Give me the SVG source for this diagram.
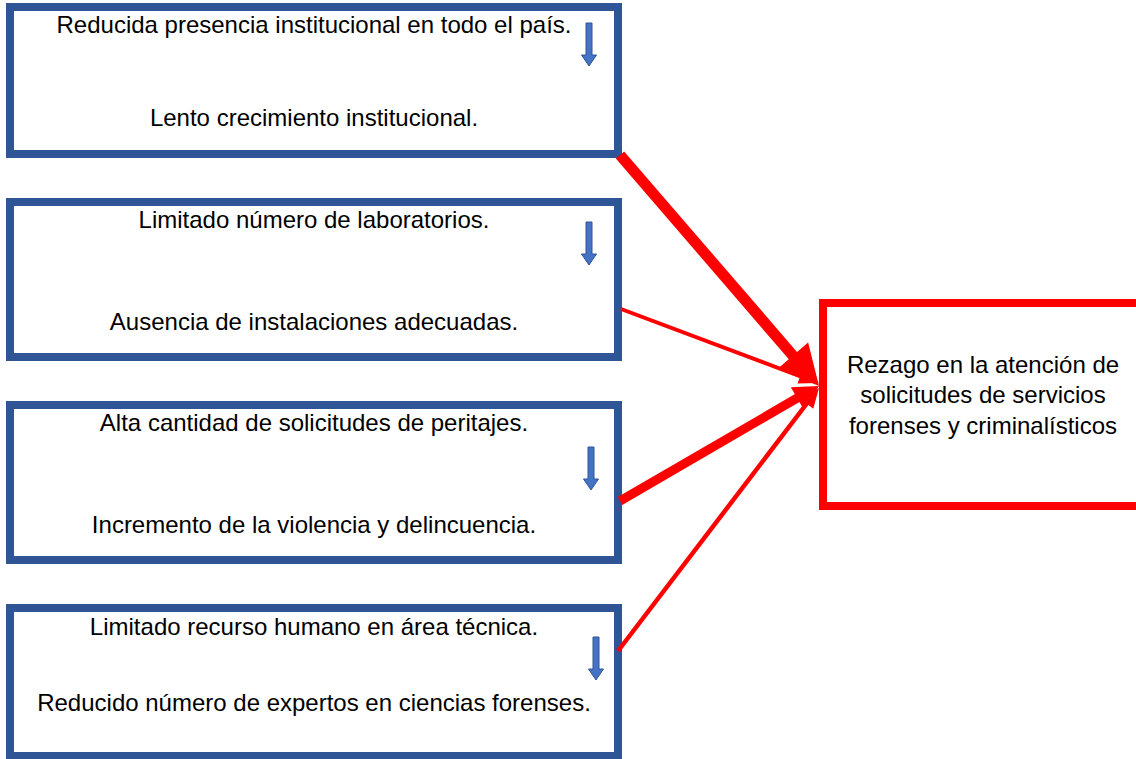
<svg xmlns="http://www.w3.org/2000/svg" width="1136" height="759" viewBox="0 0 1136 759">
<style>
.box{fill:#fff;stroke:#2F5597;stroke-width:8}
.tgt{fill:#fff;stroke:#FF0000;stroke-width:8}
.t{font-family:"Liberation Sans",Arial,sans-serif;font-size:24px;fill:#000;text-anchor:middle}
.dn{fill:#4472C4;stroke:#2F5597;stroke-width:1}
.rl{stroke:#FF0000;fill:none}
.rh{fill:#FF0000}
</style>
<defs>
<path id="down" class="dn" d="M-3,0 H3 V32 H7.5 L0,43 L-7.5,32 H-3 Z"/>
</defs>
<rect width="1136" height="759" fill="#fff"/>
<g id="n1">
<rect class="box" x="10" y="7" width="608" height="147"/>
<text class="t" x="314" y="33">Reducida presencia institucional en todo el país.</text>
<text class="t" x="314" y="126">Lento crecimiento institucional.</text>
<use href="#down" x="589" y="23"/>
</g>
<g id="n2">
<rect class="box" x="10" y="202" width="608" height="155"/>
<text class="t" x="314" y="228">Limitado número de laboratorios.</text>
<text class="t" x="314" y="330">Ausencia de instalaciones adecuadas.</text>
<use href="#down" x="589" y="222"/>
</g>
<g id="n3">
<rect class="box" x="10" y="405" width="608" height="155"/>
<text class="t" x="314" y="431">Alta cantidad de solicitudes de peritajes.</text>
<text class="t" x="314" y="533">Incremento de la violencia y delincuencia.</text>
<use href="#down" x="591" y="447"/>
</g>
<g id="n4">
<rect class="box" x="10" y="608" width="608" height="148"/>
<text class="t" x="314" y="635">Limitado recurso humano en área técnica.</text>
<text class="t" x="314" y="711">Reducido número de expertos en ciencias forenses.</text>
<use href="#down" x="596" y="637"/>
</g>
<g id="target">
<rect class="tgt" x="823" y="303" width="330" height="203"/>
<text class="t" x="983" y="373">Rezago en la atención de</text>
<text class="t" x="983" y="403">solicitudes de servicios</text>
<text class="t" x="983" y="434">forenses y criminalísticos</text>
</g>
<g id="connectors">
<line class="rl" x1="620" y1="155" x2="795" y2="358" stroke-width="11"/>
<polygon class="rh" points="819,386 777.7,368.8 808.1,342.6"/>
<line class="rl" x1="621" y1="309" x2="802" y2="377" stroke-width="4"/>
<polygon class="rh" points="819,383 803.1,368.5 797.5,383.5"/>
<line class="rl" x1="620" y1="501" x2="799" y2="397" stroke-width="9"/>
<polygon class="rh" points="819,386 803.9,409.8 790.8,387.2"/>
<line class="rl" x1="618" y1="651" x2="808" y2="402" stroke-width="4.5"/>
<polygon class="rh" points="819,388 813.3,408.8 800.5,399"/>
</g>
</svg>
